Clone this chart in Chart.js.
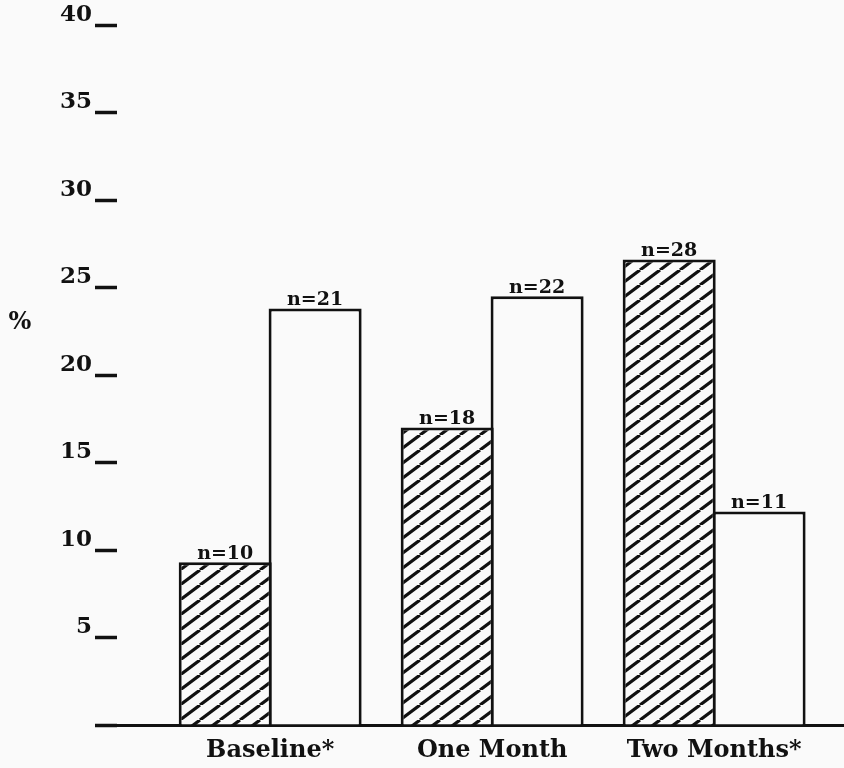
<!DOCTYPE html>
<html>
<head>
<meta charset="utf-8">
<script src="https://cdn.jsdelivr.net/npm/chart.js@4/dist/chart.umd.min.js"></script>
<style>
  html, body { margin: 0; padding: 0; background: #fafafa; }
  #wrap { width: 844px; height: 768px; }
</style>
</head>
<body>
<div id="wrap"><canvas id="chart" width="844" height="768"></canvas></div>
<script>
// ── DATA ──────────────────────────────────────────────
const CATEGORIES = ['Baseline*', 'One Month', 'Two Months*'];
const HATCHED_PCT = [9.3, 17.0, 26.6];
const OPEN_PCT = [23.8, 24.5, 12.2];
const HATCHED_N = [10, 18, 28];
const OPEN_N = [21, 22, 11];
const Y_TICKS = [0, 5, 10, 15, 20, 25, 30, 35, 40];
const Y_TITLE = '%';
const Y_TITLE_AT = 23; // value level where the % sits

const INK = '#111';
const PAPER = '#fafafa';
const FONT = "'DejaVu Serif', 'Liberation Serif', serif";

// ── Hatch pattern ("/" lines) ─────────────────────────
function makeHatch() {
  const w = 20, h = 15;
  const c = document.createElement('canvas');
  c.width = w; c.height = h;
  const g = c.getContext('2d');
  g.fillStyle = PAPER;
  g.fillRect(0, 0, w, h);
  g.strokeStyle = INK;
  g.lineWidth = 3.2;
  for (let k = -1; k <= 1; k++) {
    g.beginPath();
    g.moveTo(k * w, h);
    g.lineTo(k * w + w, 0);
    g.stroke();
  }
  return g.createPattern(c, 'repeat');
}

// ── n= labels on top of each bar, and the % sign ──────
const nLabels = {
  id: 'nLabels',
  afterDatasetsDraw(chart) {
    const ctx = chart.ctx;
    const counts = [HATCHED_N, OPEN_N];
    ctx.save();
    ctx.fillStyle = INK;
    ctx.font = `bold 19px ${FONT}`;
    ctx.textAlign = 'center';
    ctx.textBaseline = 'bottom';
    chart.data.datasets.forEach((ds, di) => {
      chart.getDatasetMeta(di).data.forEach((bar, i) => {
        ctx.fillText('n=' + counts[di][i], bar.x, bar.y + 1);
      });
    });
    const y = chart.scales.y.getPixelForValue(Y_TITLE_AT);
    ctx.font = `bold 24px ${FONT}`;
    ctx.textBaseline = 'middle';
    ctx.fillText(Y_TITLE, 20, y);
    ctx.restore();
  }
};

const hatch = makeHatch();

new Chart(document.getElementById('chart'), {
  type: 'bar',
  data: {
    datasets: [
      {
        label: 'hatched',
        data: HATCHED_PCT.map((v, i) => ({ x: i, y: v })),
        backgroundColor: hatch,
        borderColor: INK,
        borderWidth: 3
      },
      {
        label: 'open',
        data: OPEN_PCT.map((v, i) => ({ x: i, y: v })),
        backgroundColor: PAPER,
        borderColor: INK,
        borderWidth: 3
      }
    ]
  },
  options: {
    responsive: false,
    animation: false,
    categoryPercentage: 0.81,
    barPercentage: 1.035, // neighbouring bars share one edge line
    layout: { padding: { top: 25, right: 0, bottom: 0, left: 0 } },
    plugins: {
      legend: { display: false },
      tooltip: { enabled: false }
    },
    scales: {
      x: {
        type: 'linear',
        offset: false,
        bounds: 'data',
        min: -0.69,
        max: 2.585,
        afterBuildTicks: s => { s.ticks = CATEGORIES.map((_, i) => ({ value: i })); },
        afterFit: s => { s.height = 43; },
        grid: { display: false, drawTicks: false, offset: false },
        border: { display: true, color: INK, width: 3 },
        ticks: {
          padding: 11,
          color: INK,
          font: { family: FONT, size: 24, weight: 'bold' },
          callback: v => CATEGORIES[v] ?? ''
        }
      },
      y: {
        min: 0,
        max: 40,
        afterBuildTicks: s => { s.ticks = Y_TICKS.map(v => ({ value: v })); },
        afterFit: s => { s.width = 117; },
        border: { display: false },
        grid: {
          drawOnChartArea: false,
          drawTicks: true,
          tickLength: 22,
          tickWidth: 3.5,
          tickColor: INK
        },
        ticks: {
          padding: 3,
          labelOffset: -10,
          color: INK,
          font: { family: FONT, size: 23, weight: 'bold' },
          callback: v => v === 0 ? '' : v
        }
      }
    }
  },
  plugins: [nLabels]
});
</script>
</body>
</html>
